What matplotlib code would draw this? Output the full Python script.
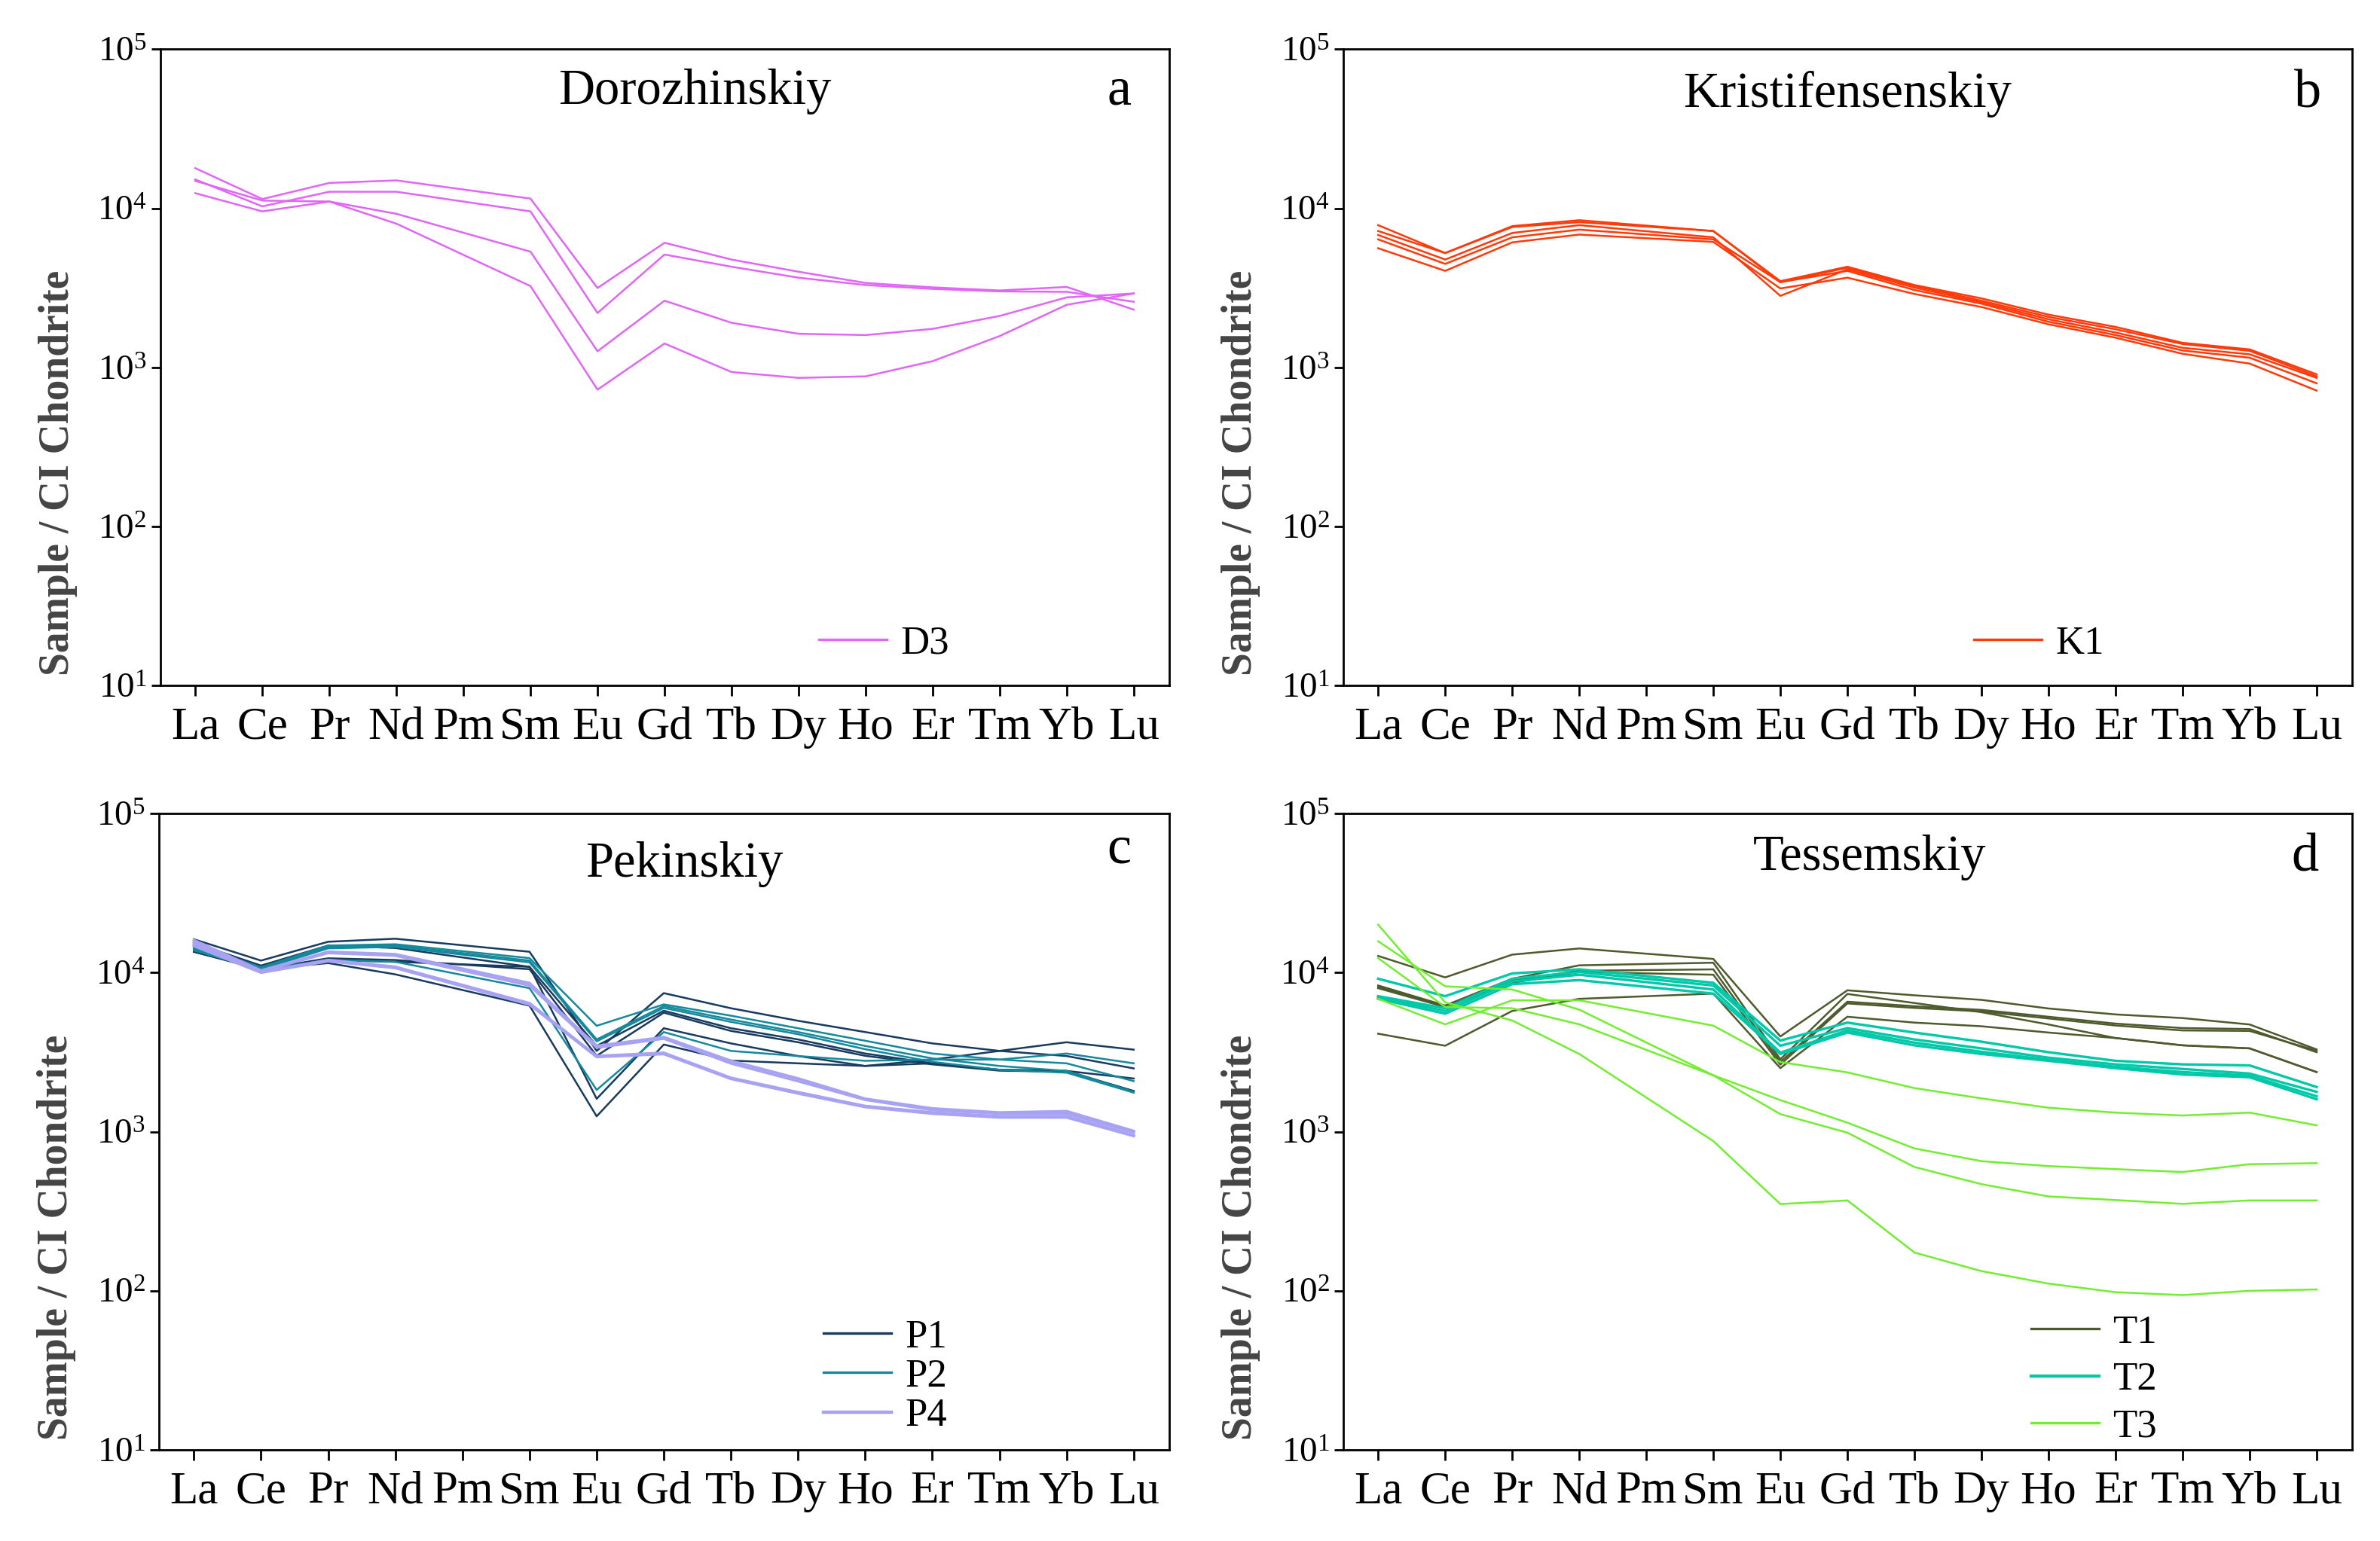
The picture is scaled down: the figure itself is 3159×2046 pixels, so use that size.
import matplotlib.pyplot as plt
from matplotlib.lines import Line2D
from matplotlib.ticker import LogFormatterMathtext, NullLocator

plt.rcParams["font.family"] = ["Liberation Serif", "DejaVu Serif"]

ree = ["La", "Ce", "Pr", "Nd", "Pm", "Sm", "Eu", "Gd", "Tb", "Dy", "Ho", "Er", "Tm", "Yb", "Lu"]
# elements actually measured (Pm is skipped)
measured = ["La", "Ce", "Pr", "Nd", "Sm", "Eu", "Gd", "Tb", "Dy", "Ho", "Er", "Tm", "Yb", "Lu"]

# a: Dorozhinskiy
d3 = [
    [17900, 11450, 14460, 15000, 11530, 3160, 6080, 4770, 4000, 3400, 3190, 3050, 3210, 2310],
    [15200, 10300, 12730, 12730, 9580, 2200, 5130, 4300, 3670, 3300, 3120, 3010, 2990, 2590],
    [14900, 11200, 11050, 9250, 5350, 1265, 2630, 1910, 1630, 1600, 1750, 2110, 2760, 2920],
    [12470, 9580, 11050, 8020, 3250, 726, 1415, 937, 861, 880, 1097, 1577, 2480, 2920],
]

# b: Kristifensenskiy
k1 = [
    [7850, 5240, 7740, 8430, 7210, 3490, 4300, 3300, 2720, 2150, 1800, 1430, 1300, 906],
    [7210, 5240, 7640, 8200, 7210, 3440, 4240, 3260, 2630, 2080, 1740, 1405, 1273, 880],
    [6810, 4770, 7010, 7850, 6580, 2820, 4140, 3180, 2570, 2010, 1660, 1330, 1211, 861],
    [6390, 4480, 6580, 7360, 6390, 3440, 4050, 3070, 2520, 1940, 1600, 1280, 1153, 796],
    [5620, 4050, 6120, 6850, 6160, 3140, 3670, 2900, 2400, 1870, 1540, 1220, 1059, 716],
]

# c: Pekinskiy
p1 = [
    [16200, 11900, 15630, 16330, 13520, 3220, 7430, 5970, 4980, 4230, 3590, 3220, 2990, 2500],
    [15350, 11070, 14790, 14280, 10870, 3460, 5760, 4470, 3800, 3100, 2690, 2450, 2410, 2160],
    [14280, 10480, 12300, 12000, 10500, 3000, 5600, 4300, 3650, 3000, 2650, 2420, 2380, 1800],
    [13520, 10480, 12000, 11690, 10870, 1610, 4470, 3590, 2990, 2590, 2690, 2450, 2410, 1800],
    [13520, 10480, 11480, 9750, 6200, 1250, 3530, 2800, 2690, 2590, 2840, 3220, 3650, 3280],
]
p2 = [
    [14800, 10800, 14790, 15070, 12330, 4630, 6310, 5360, 4470, 3730, 3100, 2840, 3100, 2690],
    [14280, 10600, 14500, 14800, 11900, 3800, 6160, 5070, 4230, 3460, 2890, 2590, 2410, 1780],
    [14000, 10500, 14200, 14500, 11600, 3700, 6000, 4900, 4100, 3300, 2750, 2450, 2350, 1760],
    [13800, 10400, 12000, 11690, 7980, 1830, 4230, 3220, 2990, 2790, 2840, 2840, 2690, 2080],
]
p4 = [
    [16000, 10300, 13520, 13040, 8590, 3460, 3930, 2790, 2160, 1610, 1400, 1320, 1345, 1010],
    [15500, 10200, 13300, 12800, 8300, 3380, 3850, 2690, 2080, 1590, 1370, 1300, 1300, 990],
    [15000, 10100, 12000, 10870, 6420, 2990, 3130, 2180, 1770, 1450, 1320, 1250, 1250, 950],
    [14700, 10000, 11800, 10700, 6300, 2950, 3080, 2150, 1740, 1430, 1300, 1230, 1230, 940],
]

# d: Tessemskiy
t1 = [
    [12730, 9330, 12970, 14180, 12190, 3970, 7740, 7200, 6740, 5950, 5460, 5180, 4720, 3290],
    [8300, 6210, 9150, 11110, 11540, 2850, 7340, 6440, 5640, 4720, 3880, 3490, 3340, 2370],
    [8140, 6150, 8900, 10270, 10480, 2740, 6560, 6150, 5830, 5280, 4780, 4480, 4420, 3160],
    [7980, 6080, 8630, 10080, 9700, 2640, 6400, 6000, 5700, 5150, 4650, 4330, 4300, 3230],
    [4130, 3470, 5740, 6840, 7380, 2510, 5280, 4850, 4600, 4200, 3880, 3490, 3340, 2370],
]
t2 = [
    [9150, 7110, 9880, 10480, 8630, 3740, 4850, 4200, 3680, 3160, 2790, 2650, 2610, 1910],
    [7110, 5970, 9150, 10080, 8300, 3470, 4480, 3800, 3340, 2920, 2650, 2480, 2320, 1780],
    [6970, 5740, 8790, 9700, 7830, 3140, 4330, 3630, 3180, 2830, 2560, 2370, 2250, 1670],
    [6840, 5520, 8460, 8970, 7380, 3080, 4200, 3490, 3080, 2790, 2510, 2290, 2200, 1600],
]
t3 = [
    [6840, 4730, 6700, 6700, 4640, 2740, 2360, 1880, 1620, 1415, 1318, 1264, 1318, 1097],
    [15740, 8200, 7830, 5850, 2260, 1580, 1140, 785, 653, 608, 582, 558, 625, 634],
    [12330, 6080, 5970, 4730, 2260, 1290, 986, 600, 468, 392, 372, 352, 370, 370],
    [20000, 6500, 5000, 3080, 873, 351, 370, 174, 133, 111, 98, 94, 100, 102],
]

panels = [
    ("Dorozhinskiy", "a", [("D3", d3, "#E066F5", 0.9)],
     [0.0674, 0.555, 0.4239, 0.413], (0.653, 0.066), 0.0, (0.53, 0.934), (0.95, 0.934)),
    ("Kristifensenskiy", "b", [("K1", k1, "#FF3A0A", 0.9)],
     [0.5644, 0.555, 0.4239, 0.413], (0.625, 0.066), 0.0, (0.50, 0.93), (0.956, 0.93)),
    ("Pekinskiy", "c", [("P1", p1, "#173A5E", 0.9), ("P2", p2, "#14899B", 0.9), ("P4", p4, "#A7A2F2", 1.3)],
     [0.0668, 0.0591, 0.4245, 0.413], (0.658, 0.115), 0.08, (0.52, 0.92), (0.95, 0.943)),
    ("Tessemskiy", "d", [("T1", t1, "#4D5A2C", 0.9), ("T2", t2, "#00C8A8", 1.2), ("T3", t3, "#72EE30", 0.9)],
     [0.5644, 0.0591, 0.4239, 0.413], (0.682, 0.110), 0.27, (0.522, 0.931), (0.953, 0.93)),
]

fig = plt.figure(figsize=(15.795, 10.23), dpi=200)
xs = [ree.index(e) for e in measured]

for title, letter, groups, rect, leg_xy, leg_sp, title_xy, letter_xy in panels:
    ax = fig.add_axes(rect)
    handles = []
    for name, rows, color, lw in groups:
        for row in rows:
            ax.plot(xs, row, color=color, lw=lw)
        handles.append(Line2D([], [], color=color, lw=lw + 0.3, label=name))

    ax.set_yscale("log")
    ax.set_ylim(10, 1e5)
    ax.set_xlim(-0.52, 14.53)
    ax.set_xticks(range(len(ree)))
    ax.set_xticklabels(ree, fontsize=22)
    ax.yaxis.set_major_formatter(LogFormatterMathtext())
    ax.yaxis.set_minor_locator(NullLocator())
    ax.tick_params(axis="x", direction="out", length=5, width=1.0, pad=5)
    ax.tick_params(axis="y", direction="out", length=4.5, width=1.0, pad=2, labelsize=17)
    for sp in ax.spines.values():
        sp.set_linewidth(1.0)

    ax.set_ylabel("Sample / CI Chondrite", fontsize=20, fontweight="bold", color="#444444")
    ax.yaxis.set_label_coords(-0.082, 0.334)

    ax.text(title_xy[0], title_xy[1], title, transform=ax.transAxes,
            ha="center", va="center", fontsize=24)
    ax.text(letter_xy[0], letter_xy[1], letter, transform=ax.transAxes,
            ha="center", va="center", fontsize=26)

    ax.legend(handles=handles, loc="center left", bbox_to_anchor=leg_xy,
              frameon=False, fontsize=19, handlelength=1.7, handletextpad=0.35,
              borderpad=0, borderaxespad=0, labelspacing=leg_sp)

fig.savefig("out.png", dpi=200)
